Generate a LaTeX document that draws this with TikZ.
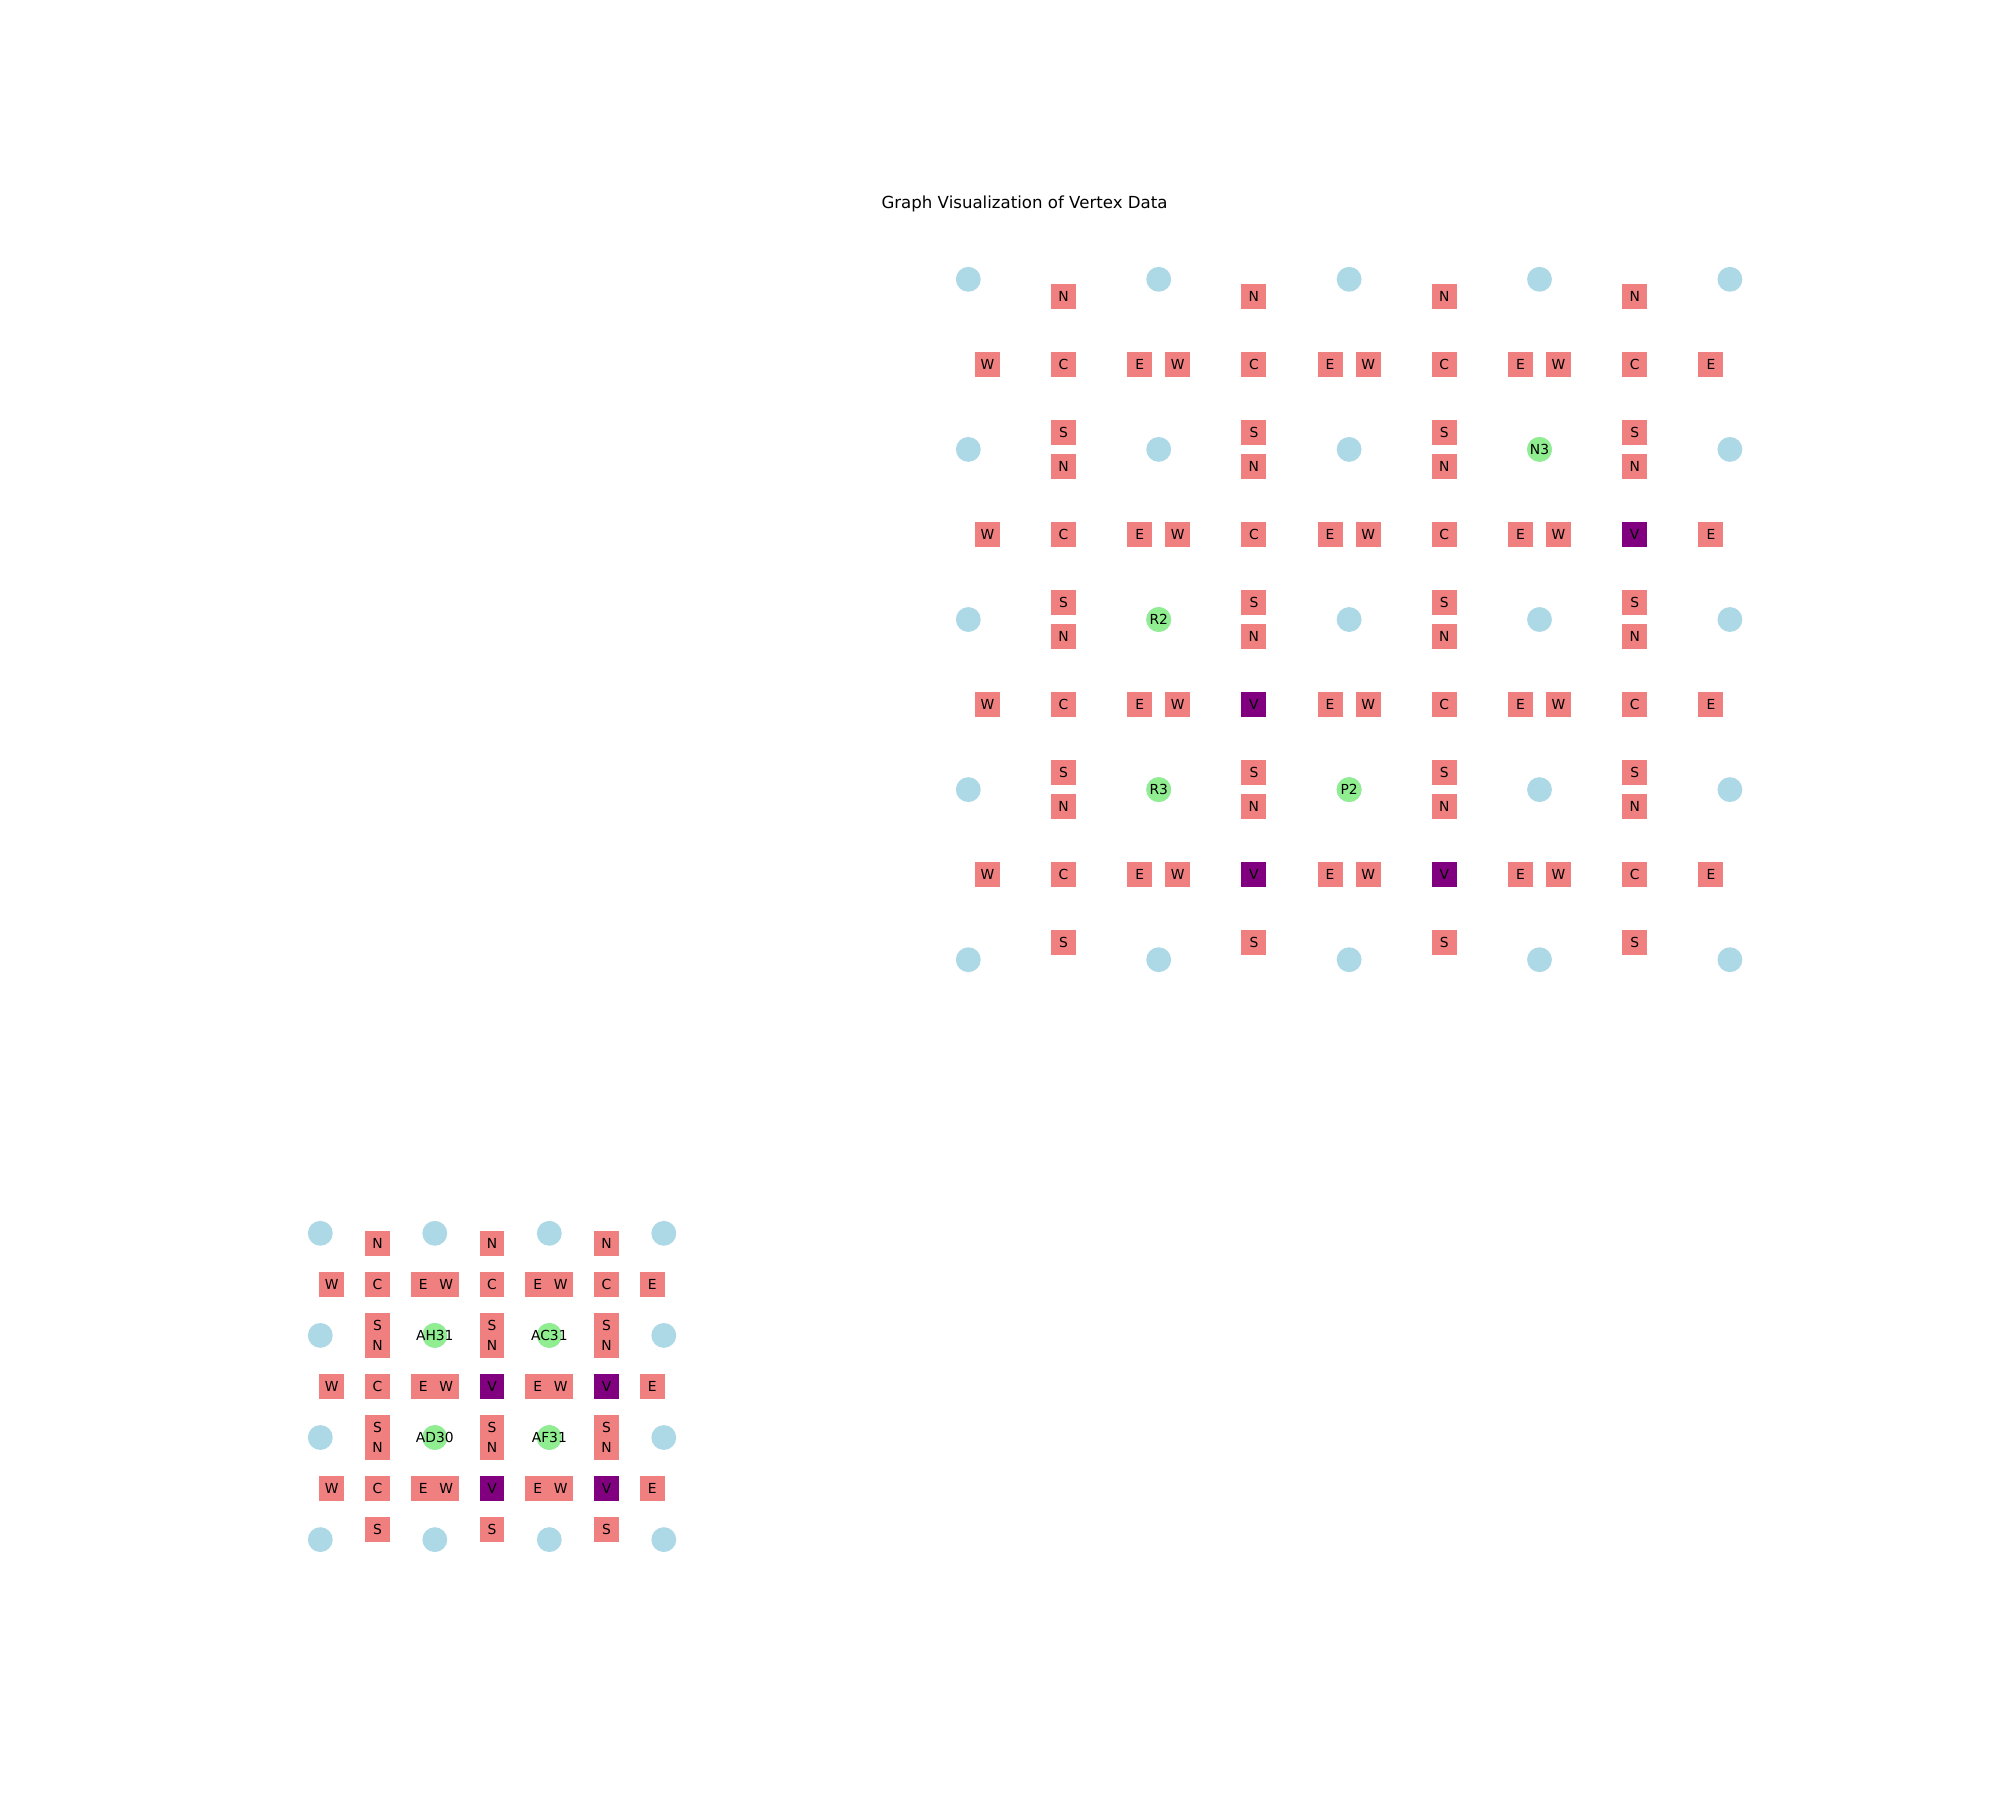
\documentclass[tikz,border=0pt]{standalone}
\usepackage{fontspec}
\setmainfont{DejaVu Sans}
\definecolor{lc}{HTML}{F08080}
\definecolor{vp}{HTML}{800080}
\definecolor{lb}{HTML}{ADD8E6}
\definecolor{lg}{HTML}{90EE90}
\newcommand\lblfont{\fontsize{10}{12}\selectfont}
\newcommand\ttlfont{\fontsize{12}{14}\selectfont}
\begin{document}
\begin{tikzpicture}[x=0.72bp, y=-0.72bp,
  sq/.style={rectangle, minimum size=17.9bp, inner sep=0pt, fill=lc, font=\lblfont, text=black},
  vsq/.style={sq, fill=vp},
  cir/.style={circle, minimum size=17.9bp, inner sep=0pt, fill=lb},
  gcir/.style={circle, minimum size=17.9bp, inner sep=0pt, fill=lg},
  txt/.style={inner sep=0pt, font=\lblfont, text=black}]
\useasboundingbox (0,0) rectangle (2000,1800);
\node[font=\ttlfont, anchor=base, inner sep=0pt] (title) at (1024.5,208.3) {Graph Visualization of Vertex Data};
% top grid
\begin{scope}[shift={(968.3,279.3)}]
\def\dx{190.4}\def\dy{170.1}
\foreach \i in {0,...,4}
  \foreach \j in {0,...,4}
    \node[cir] (t-c\i-\j) at (\i*\dx,\j*\dy) {};
\foreach \i in {0,...,3}
  \foreach \j in {0,...,3} {
    \node[sq] (t-n\i-\j) at ({(\i+0.5)*\dx},{(\j+0.1)*\dy}) {N};
    \node[sq] (t-s\i-\j) at ({(\i+0.5)*\dx},{(\j+0.9)*\dy}) {S};
    \node[sq] (t-w\i-\j) at ({(\i+0.1)*\dx},{(\j+0.5)*\dy}) {W};
    \node[sq] (t-e\i-\j) at ({(\i+0.9)*\dx},{(\j+0.5)*\dy}) {E};
    \node[sq] (t-m\i-\j) at ({(\i+0.5)*\dx},{(\j+0.5)*\dy}) {C};
  }
\foreach \i/\j in {3/1,1/2,1/3,2/3}
  \node[vsq] (t-v\i-\j) at ({(\i+0.5)*\dx},{(\j+0.5)*\dy}) {V};
\foreach \i/\j/\t in {3/1/N3,1/2/R2,1/3/R3,2/3/P2} {
  \node[gcir] (t-g\i-\j) at (\i*\dx,\j*\dy) {};
  \node[txt] (t-l\i-\j) at (t-g\i-\j.center) {\t};
}
\end{scope}
% bottom grid
\begin{scope}[shift={(320.3,1233.3)}]
\def\dx{114.5}\def\dy{102.1}
\foreach \i in {0,...,3}
  \foreach \j in {0,...,3}
    \node[cir] (b-c\i-\j) at (\i*\dx,\j*\dy) {};
\foreach \i in {0,...,2}
  \foreach \j in {0,...,2} {
    \node[sq] (b-n\i-\j) at ({(\i+0.5)*\dx},{(\j+0.1)*\dy}) {N};
    \node[sq] (b-s\i-\j) at ({(\i+0.5)*\dx},{(\j+0.9)*\dy}) {S};
    \node[sq] (b-w\i-\j) at ({(\i+0.1)*\dx},{(\j+0.5)*\dy}) {W};
    \node[sq] (b-e\i-\j) at ({(\i+0.9)*\dx},{(\j+0.5)*\dy}) {E};
    \node[sq] (b-m\i-\j) at ({(\i+0.5)*\dx},{(\j+0.5)*\dy}) {C};
  }
\foreach \i/\j in {1/1,2/1,1/2,2/2}
  \node[vsq] (b-v\i-\j) at ({(\i+0.5)*\dx},{(\j+0.5)*\dy}) {V};
\foreach \i/\j/\t in {1/1/AH31,2/1/AC31,1/2/AD30,2/2/AF31} {
  \node[gcir] (b-g\i-\j) at (\i*\dx,\j*\dy) {};
  \node[txt] (b-l\i-\j) at (b-g\i-\j.center) {\t};
}
\end{scope}
\end{tikzpicture}
\end{document}
